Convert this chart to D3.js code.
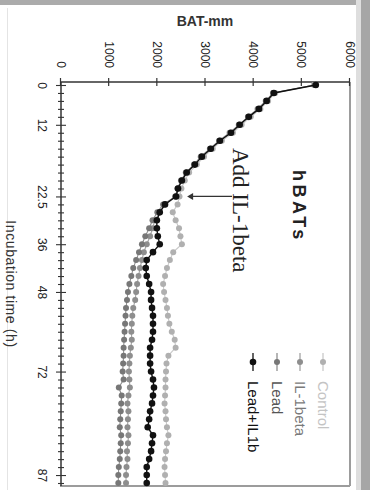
<!DOCTYPE html>
<html>
<head>
<meta charset="utf-8">
<script src="https://cdn.jsdelivr.net/npm/d3@7"></script>
<style>
  body { margin: 0; background: #fff; }
  svg { display: block; }
  text { font-family: "Liberation Sans", Arial, sans-serif; }
  text.note { font-family: "Liberation Serif", "Times New Roman", serif; }
</style>
</head>
<body>
<svg id="chart" width="370" height="490"></svg>
<script>
// Sampling times (h), one per measurement
const times = [0,2,4,6,9,12,13,14,15.5,17,18,19.5,20.5,21.5,22.5,24,26,28,30,33,
  36,38,40,42,44,46,48,50,52,54,56,58,60,62,65,68,72,73,74,75,
  76,77,78,79,80,81,82,84,85.5,87,88];

// Labelled time ticks
const tickTimes  = [0, 12, 22.5, 36, 48, 72, 87];
const tickLabels = ["0", "12", "22.5", "36", "48", "72", "87"];

// Resistance axis ticks
const valueTicks = [0, 1000, 2000, 3000, 4000, 5000, 6000];

const seriesNames = ["Control", "IL-1beta", "Lead", "Lead+IL1b"];

const control = [5250,4450,4300,4140,3940,3750,3570,3340,3150,2970,2820,2660,2570,2500,2460,
  2420,2320,2380,2450,2480,2510,2330,2260,2200,2160,2120,2140,2170,2200,2220,
  2250,2300,2360,2380,2230,2190,2180,2170,2170,2160,2150,2170,2180,2200,2230,
  2200,2180,2160,2150,2160,2170];

const il1beta = [5270,4400,4250,4080,3880,3690,3500,3280,3090,2900,2760,2590,2490,2420,2370,
  2150,2050,1950,1900,1850,1780,1720,1680,1640,1610,1580,1560,1540,1500,1480,
  1470,1460,1470,1450,1430,1420,1410,1420,1430,1400,1380,1400,1390,1380,1400,
  1390,1370,1380,1360,1350,1350];

const lead = [5280,4410,4260,4100,3890,3700,3520,3290,3100,2910,2770,2600,2500,2420,2380,
  2120,2000,1900,1830,1750,1680,1620,1560,1500,1460,1420,1390,1370,1350,1340,
  1330,1320,1310,1300,1300,1290,1280,1300,1200,1260,1250,1240,1230,1220,1250,
  1240,1230,1220,1200,1190,1190];

const leadIl1b = [5290,4420,4270,4110,3900,3710,3530,3300,3110,2925,2780,2610,2510,2430,2390,
  2160,2050,1990,1990,2010,2050,1910,1780,1760,1780,1830,1870,1870,1890,1910,
  1910,1910,1890,1850,1850,1850,1870,1910,1930,1910,1890,1850,1830,1800,1910,
  1890,1870,1830,1780,1780,1780];

// Time at which IL-1beta was added
const addTime = 22.5;

const series = [
  { name: seriesNames[0], values: control,  line: "#c9c9c9", dot: "#b0b0b0", text: "#c4c4c4", r: 3 },
  { name: seriesNames[1], values: il1beta,  line: "#a3a3a3", dot: "#8e8e8e", text: "#7a7a7a", r: 3 },
  { name: seriesNames[2], values: lead,     line: "#8f8f8f", dot: "#777777", text: "#555555", r: 3 },
  { name: seriesNames[3], values: leadIl1b, line: "#111111", dot: "#111111", text: "#111111", r: 3.3 }
];

const svg = d3.select("#chart");

// Page frame
svg.append("rect").attr("x", 0).attr("y", 0).attr("width", 370).attr("height", 5).attr("fill", "#ababab");
svg.append("rect").attr("x", 356).attr("y", 0).attr("width", 5).attr("height", 490).attr("fill", "#dedede");
svg.append("rect").attr("x", 361).attr("y", 0).attr("width", 9).attr("height", 490).attr("fill", "#a6a6a6");
svg.append("line").attr("x1", 7.5).attr("x2", 7.5).attr("y1", 8).attr("y2", 490)
  .attr("stroke", "#e4e4e4").attr("stroke-width", 1);

// The chart is laid out sideways: time runs down the page, resistance to the right
const g = svg.append("g").attr("transform", "translate(370,0) rotate(90)");

const x = d3.scalePoint().domain(times).range([85, 483]);
const y = d3.scaleLinear().domain([0, 6000]).range([309, 20]);

// Plot border
g.append("line").attr("x1", 82).attr("x2", 486).attr("y1", 20).attr("y2", 20)
  .attr("stroke", "#9c9c9c").attr("stroke-width", 2);
g.append("line").attr("x1", 486).attr("x2", 486).attr("y1", 20).attr("y2", 310)
  .attr("stroke", "#9c9c9c").attr("stroke-width", 2);

// Resistance axis
const yAxis = g.append("g").attr("transform", "translate(82,0)")
  .call(d3.axisLeft(y).tickValues(valueTicks).tickFormat(d3.format("d"))
    .tickSize(4).tickPadding(10).tickSizeOuter(0));
yAxis.select(".domain").remove();
yAxis.selectAll(".tick line").attr("x1", 4).attr("x2", -4).attr("stroke", "#333").attr("stroke-width", 1.2);
yAxis.selectAll(".tick text").attr("font-size", 12).attr("fill", "#222");
g.append("line").attr("x1", 82).attr("x2", 82).attr("y1", 20).attr("y2", 309)
  .attr("stroke", "#333").attr("stroke-width", 1.5);

// Time axis
const xAxis = g.append("g").attr("transform", "translate(0,309)")
  .call(d3.axisBottom(x).tickValues(times).tickSize(3).tickPadding(11).tickSizeOuter(0)
    .tickFormat(t => { const i = tickTimes.indexOf(t); return i >= 0 ? tickLabels[i] : ""; }));
xAxis.select(".domain").remove();
xAxis.selectAll(".tick line")
  .attr("y1", t => tickTimes.includes(t) ? -5 : -3)
  .attr("y2", t => tickTimes.includes(t) ? 5 : 3)
  .attr("stroke", "#333").attr("stroke-width", 1.1);
xAxis.selectAll(".tick text").attr("font-size", 12).attr("fill", "#222");
g.append("line").attr("x1", 82).attr("x2", 486).attr("y1", 309).attr("y2", 309)
  .attr("stroke", "#333").attr("stroke-width", 1.5);

// Axis titles
svg.append("text").attr("x", 205).attr("y", 26).attr("text-anchor", "middle")
  .attr("font-size", 14).attr("font-weight", "bold").attr("fill", "#333")
  .text("BAT-mm");
g.append("text").attr("x", (85 + 483) / 2).attr("y", 364).attr("text-anchor", "middle")
  .attr("font-size", 14).attr("fill", "#333").attr("letter-spacing", 0.6)
  .text("Incubation time (h)");

// Series
const lineGen = d3.line().x((d, i) => x(times[i])).y(d => y(d));
series.forEach(s => {
  g.append("path").datum(s.values)
    .attr("d", lineGen).attr("fill", "none")
    .attr("stroke", s.line).attr("stroke-width", s.name === "Lead+IL1b" ? 1.4 : 1.1);
  g.append("g").selectAll("circle").data(s.values).join("circle")
    .attr("cx", (d, i) => x(times[i])).attr("cy", d => y(d))
    .attr("r", s.r).attr("fill", s.dot);
});

// Panel title
g.append("text").attr("x", 170).attr("y", 77)
  .attr("font-size", 18).attr("font-weight", "bold").attr("letter-spacing", 3.5)
  .attr("fill", "#222").text("hBATs");

// IL-1beta addition marker
const addIdx = times.indexOf(addTime);
const ax = x(addTime);
const tipY = y(leadIl1b[addIdx]) - 11;
g.append("line").attr("x1", ax).attr("x2", ax).attr("y1", 138).attr("y2", tipY - 4)
  .attr("stroke", "#333").attr("stroke-width", 1.2);
g.append("path")
  .attr("d", `M${ax - 3.5},${tipY - 6}L${ax + 3.5},${tipY - 6}L${ax},${tipY}Z`)
  .attr("fill", "#333");
g.append("text").attr("class", "note").attr("x", 148).attr("y", 137)
  .attr("font-size", 23).attr("fill", "#222").text("Add IL-1beta");

// Legend
const legendY = [47, 70, 93, 117];
const legend = g.append("g");
series.forEach((s, i) => {
  const row = legend.append("g").attr("transform", `translate(0,${legendY[i]})`);
  row.append("line").attr("x1", 353).attr("x2", 371).attr("y1", 0).attr("y2", 0)
    .attr("stroke", s.line).attr("stroke-width", 1.3);
  row.append("circle").attr("cx", 362).attr("cy", 0).attr("r", s.r).attr("fill", s.dot);
  row.append("text").attr("x", 381).attr("y", 0).attr("dy", "0.35em")
    .attr("font-size", 15).attr("fill", s.text).text(s.name);
});
</script>
</body>
</html>
